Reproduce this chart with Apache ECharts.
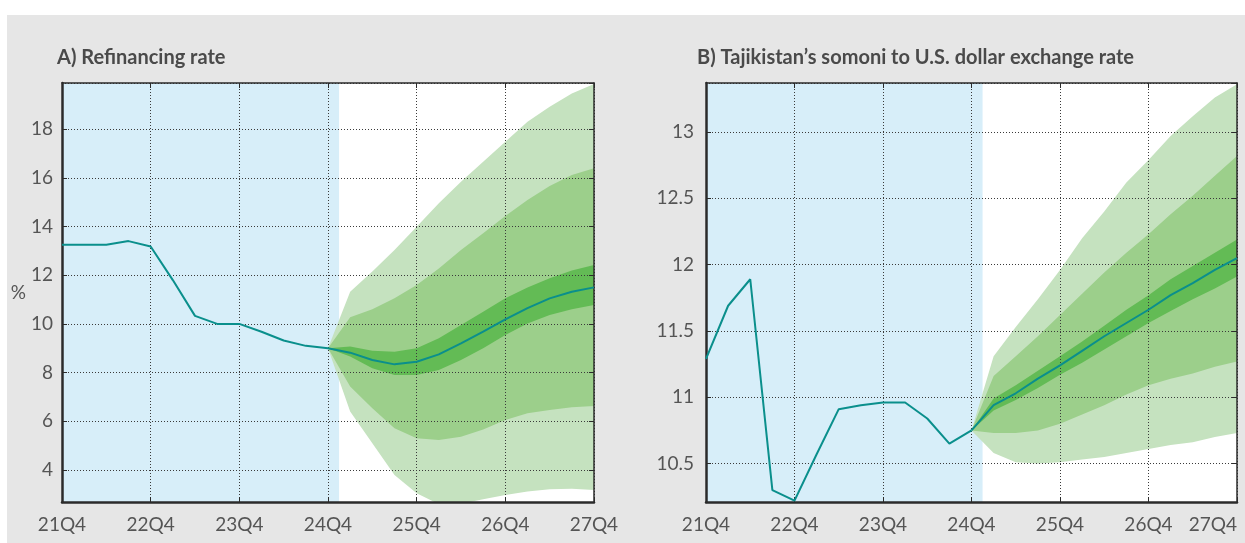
<!DOCTYPE html>
<html>
<head>
<meta charset="utf-8">
<script src="https://cdn.jsdelivr.net/npm/echarts@6/dist/echarts.min.js"></script>
<style>
  html, body { margin: 0; padding: 0; background: #fff; }
  #main { width: 1245px; height: 543px; }
</style>
</head>
<body>
<div id="main"></div>
<script>
// x positions are quarter indices: 0 = 21Q4 ... 24 = 27Q4
var xTickLabels = ['21Q4', '22Q4', '23Q4', '24Q4', '25Q4', '26Q4', '27Q4'];
var projStart = 12; // 24Q4

// A) refinancing rate, %
var refiHist = [13.25, 13.25, 13.25, 13.4, 13.18, 11.8, 10.33, 10.0, 10.0, 9.68, 9.32, 9.1, 9.0];
var refiProj = [9.0, 8.82, 8.52, 8.34, 8.45, 8.75, 9.2, 9.68, 10.19, 10.65, 11.05, 11.32, 11.5];
var refiLightLo = [9.0, 6.4, 5.1, 3.8, 3.05, 2.6, 2.62, 2.8, 2.98, 3.12, 3.21, 3.23, 3.18];
var refiMidLo = [9.0, 7.43, 6.54, 5.72, 5.31, 5.24, 5.37, 5.67, 6.06, 6.33, 6.47, 6.58, 6.63];
var refiDarkLo = [9.0, 8.66, 8.18, 7.9, 7.9, 8.11, 8.52, 9.0, 9.55, 10.02, 10.37, 10.6, 10.78];
var refiDarkUp = [9.0, 9.07, 8.9, 8.86, 9.0, 9.41, 9.96, 10.5, 11.05, 11.5, 11.87, 12.19, 12.42];
var refiMidUp = [9.0, 10.27, 10.6, 11.05, 11.6, 12.28, 13.03, 13.72, 14.43, 15.09, 15.66, 16.11, 16.39];
var refiLightUp = [9.0, 11.32, 12.15, 13.03, 13.99, 14.95, 15.84, 16.66, 17.48, 18.3, 18.92, 19.46, 19.85];

// B) somoni per U.S. dollar
var fxHist = [11.29, 11.69, 11.89, 10.3, 10.22, 10.57, 10.91, 10.94, 10.96, 10.96, 10.84, 10.65, 10.75];
var fxProj = [10.75, 10.94, 11.03, 11.14, 11.24, 11.35, 11.46, 11.56, 11.66, 11.77, 11.86, 11.96, 12.05];
var fxLightLo = [10.75, 10.58, 10.51, 10.5, 10.51, 10.53, 10.55, 10.58, 10.61, 10.64, 10.66, 10.7, 10.73];
var fxMidLo = [10.75, 10.73, 10.73, 10.75, 10.8, 10.87, 10.94, 11.02, 11.09, 11.14, 11.18, 11.23, 11.27];
var fxDarkLo = [10.75, 10.9, 10.98, 11.07, 11.17, 11.26, 11.36, 11.46, 11.56, 11.65, 11.74, 11.82, 11.91];
var fxDarkUp = [10.75, 10.99, 11.09, 11.2, 11.31, 11.42, 11.54, 11.66, 11.77, 11.89, 11.99, 12.09, 12.19];
var fxMidUp = [10.75, 11.16, 11.31, 11.46, 11.62, 11.78, 11.94, 12.09, 12.23, 12.38, 12.52, 12.67, 12.82];
var fxLightUp = [10.75, 11.31, 11.53, 11.74, 11.96, 12.2, 12.4, 12.62, 12.79, 12.97, 13.12, 13.26, 13.36];

var LIGHT = '#c5e2bf', MID = '#9ccf8b', DARK = '#63bb55';
var LINE = '#0a8f8c', AXIS = '#2b2b2b', LABEL = '#555', FONT = 'Lato';

function pairs(start, vals) {
  return vals.map(function (v, i) { return [start + i, v]; });
}

// one filled polygon between a lower and upper edge, drawn through the axis scales
function band(ax, lo, hi, color, withShade) {
  var data = lo.map(function (v, i) { return [projStart + i, v, hi[i]]; });
  var s = {
    type: 'custom', xAxisIndex: ax, yAxisIndex: ax, z: 2, silent: true, clip: true,
    encode: { x: 0, y: [1, 2] },
    data: data,
    renderItem: function (params, api) {
      if (params.dataIndex !== 0) return null;
      var top = data.map(function (d) { return api.coord([d[0], d[2]]); });
      var bot = data.map(function (d) { return api.coord([d[0], d[1]]); }).reverse();
      return { type: 'polygon', shape: { points: top.concat(bot) }, style: { fill: color } };
    }
  };
  if (withShade) {
    s.markArea = {
      silent: true,
      itemStyle: { color: '#d7eef9' },
      data: [[{ xAxis: 0 }, { xAxis: projStart + 0.5 }]]
    };
  }
  return s;
}

function lineSeries(ax, start, vals) {
  return {
    type: 'line', xAxisIndex: ax, yAxisIndex: ax, z: 5,
    symbol: 'none', silent: true,
    lineStyle: { color: LINE, width: 2 },
    data: pairs(start, vals)
  };
}

function xAxes(grid, alignLast) {
  return [{
    gridIndex: grid, type: 'value', min: 0, max: 24, interval: 4, position: 'bottom', z: 3,
    axisLine: { show: true, onZero: false, lineStyle: { color: AXIS, width: 2.5 } },
    axisTick: { show: true, inside: true, length: 5, lineStyle: { color: AXIS } },
    axisLabel: {
      color: LABEL, fontSize: 19, fontFamily: FONT, margin: 13,
      alignMaxLabel: alignLast ? 'right' : null,
      formatter: function (v) { return xTickLabels[Math.round(v / 4)]; }
    },
    splitLine: { show: true, lineStyle: { color: '#3a3a3a', width: 1, type: [1, 2] } }
  }, {
    gridIndex: grid, type: 'value', min: 0, max: 24, interval: 4, position: 'top', z: 3,
    axisLine: { show: true, onZero: false, lineStyle: { color: AXIS, width: 1.5 } },
    axisTick: { show: true, inside: true, length: 5, lineStyle: { color: AXIS } },
    axisLabel: { show: false },
    splitLine: { show: false }
  }];
}

function yAxes(grid, min, max, split, margin, name) {
  return [{
    gridIndex: grid, type: 'value', min: min, max: max, splitNumber: split, position: 'left', z: 3,
    name: name, nameLocation: 'middle', nameGap: 24, nameRotate: 0,
    nameTextStyle: { color: LABEL, fontSize: 19, fontFamily: FONT, padding: [18, 0, 0, 0] },
    axisLine: { show: true, onZero: false, lineStyle: { color: AXIS, width: 2.5 } },
    axisTick: { show: true, inside: true, length: 5, lineStyle: { color: AXIS } },
    axisLabel: { color: LABEL, fontSize: 19, fontFamily: FONT, margin: margin, showMinLabel: false, showMaxLabel: false },
    splitLine: { show: true, lineStyle: { color: '#3a3a3a', width: 1, type: [1, 2] } }
  }, {
    gridIndex: grid, type: 'value', min: min, max: max, splitNumber: split, position: 'right', z: 3,
    axisLine: { show: true, onZero: false, lineStyle: { color: AXIS, width: 1.5 } },
    axisTick: { show: true, inside: true, length: 5, lineStyle: { color: AXIS } },
    axisLabel: { show: false },
    splitLine: { show: false }
  }];
}

var chart = echarts.init(document.getElementById('main'), null, { renderer: 'canvas' });

var series = [
  band(0, refiLightLo, refiLightUp, LIGHT, true),
  band(0, refiMidLo, refiMidUp, MID, false),
  band(0, refiDarkLo, refiDarkUp, DARK, false),
  lineSeries(0, 0, refiHist),
  lineSeries(0, projStart, refiProj),
  band(2, fxLightLo, fxLightUp, LIGHT, true),
  band(2, fxMidLo, fxMidUp, MID, false),
  band(2, fxDarkLo, fxDarkUp, DARK, false),
  lineSeries(2, 0, fxHist),
  lineSeries(2, projStart, fxProj)
];

var option = {
  animation: false,
  backgroundColor: '#fff',
  graphic: [{
    type: 'rect', z: -10, silent: true,
    shape: { x: 7, y: 15, width: 1238, height: 528 },
    style: { fill: '#e6e6e6' }
  }],
  title: [{
    text: 'A) Refinancing rate', left: 52, top: 43,
    textStyle: { fontSize: 20, fontWeight: 'bold', color: '#4a4a4a', fontFamily: FONT }
  }, {
    text: 'B) Tajikistan\u2019s somoni to U.S. dollar exchange rate', left: 692, top: 43,
    textStyle: { fontSize: 20, fontWeight: 'bold', color: '#4a4a4a', fontFamily: FONT }
  }],
  grid: [
    { left: 62, top: 83, width: 532, height: 419, show: true, backgroundColor: '#fff', borderWidth: 0, containLabel: false, outerBoundsMode: 'none' },
    { left: 706, top: 83, width: 531, height: 419, show: true, backgroundColor: '#fff', borderWidth: 0, containLabel: false, outerBoundsMode: 'none' }
  ],
  xAxis: xAxes(0, false).concat(xAxes(1, true)),
  yAxis: yAxes(0, 2.69, 19.89, 8, 9, '%').concat(yAxes(1, 10.21, 13.37, 6, 12, '')),
  series: series
};

chart.setOption(option);
</script>
</body>
</html>
